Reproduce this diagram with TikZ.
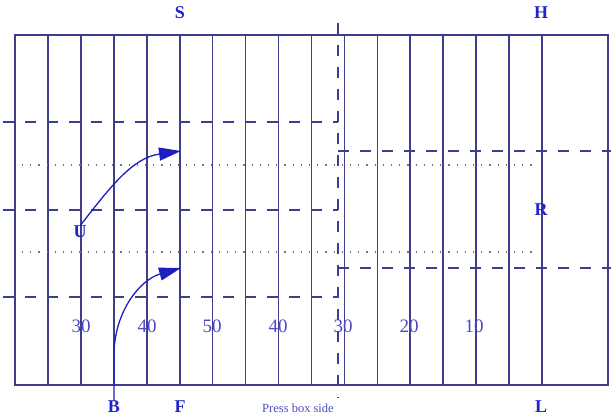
\documentclass[tikz,border=0pt]{standalone}
\usepackage{fontspec}
\setmainfont{Liberation Serif}
\usepackage{xcolor}
\usepackage{tikz}
\usetikzlibrary{arrows.meta,positioning,calc}

\definecolor{fieldcol}{RGB}{62,62,140}
\definecolor{lblcol}{RGB}{35,35,205}
\definecolor{numcol}{RGB}{75,75,195}
\definecolor{runcol}{RGB}{30,30,190}

\begin{document}
\begin{tikzpicture}[
  x=1pt, y=1pt,
  every node/.style={inner sep=0pt},
  yard/.style    ={draw=fieldcol, line width=1.6pt},
  hash/.style    ={draw=fieldcol, line width=1.6pt, dash pattern=on 11pt off 11pt},
  dotrow/.style  ={draw=black!55, line width=1.2pt, dash pattern=on 1.2pt off 7pt},
  player/.style  ={text=lblcol, font=\fontsize{18}{18}\selectfont\bfseries},
  ydnum/.style   ={text=numcol, font=\fontsize{19}{19}\selectfont},
  route/.style   ={draw=runcol, line width=1.3pt, -{Triangle[length=22pt,width=13pt]}},
]
  \useasboundingbox (0,0) rectangle (611,420);

  % field and yard lines
  \draw[yard] (15,385) rectangle (608,35);
  \foreach \k in {1,...,16}
    \draw[yard] ({15+32.94*\k},385) -- ({15+32.94*\k},35);

  % hash marks and line of scrimmage
  \draw[hash] (3,298) -- (338,298);
  \draw[hash] (3,210) -- (338,210);
  \draw[hash] (3,123) -- (338,123);
  \draw[hash] (338,269) -- (611,269);
  \draw[hash] (338,152) -- (611,152);
  \draw[dotrow] (22,255) -- (535,255);
  \draw[dotrow] (22,168) -- (535,168);
  \draw[hash] (338,397) -- (338,22);

  % yard numbers
  \node[ydnum] (n30a) at (81,94)  {30};
  \node[ydnum] (n40a) at (147,94) {40};
  \node[ydnum] (n50)  at (212,94) {50};
  \node[ydnum] (n40b) at (278,94) {40};
  \node[ydnum] (n30b) at (343,94) {30};
  \node[ydnum] (n20)  at (409,94) {20};
  \node[ydnum] (n10)  at (474,94) {10};

  % players
  \node[player] (S) at (180,407) {S};
  \node[player] (H) at (541,407) {H};
  \node[player] (R) at (541,210) {R};
  \node[player] (U) at (80,188)  {U};
  \node[player] (B) at (114,13)  {B};
  \node[player] (F) at (180,13)  {F};
  \node[player] (L) at (541,13)  {L};
  \node[text=numcol, font=\fontsize{12.5}{12.5}\selectfont] (press) at (298,12) {Press box side};

  % routes
  \coordinate (uend) at (181,269);
  \coordinate (bbend) at (114,68);
  \coordinate (bend) at (181,152);
  \draw[route] (U.north) to[out=52,in=188] (uend);
  \draw[route] (B.north) -- (bbend) to[out=88,in=196] (bend);
\end{tikzpicture}
\end{document}
